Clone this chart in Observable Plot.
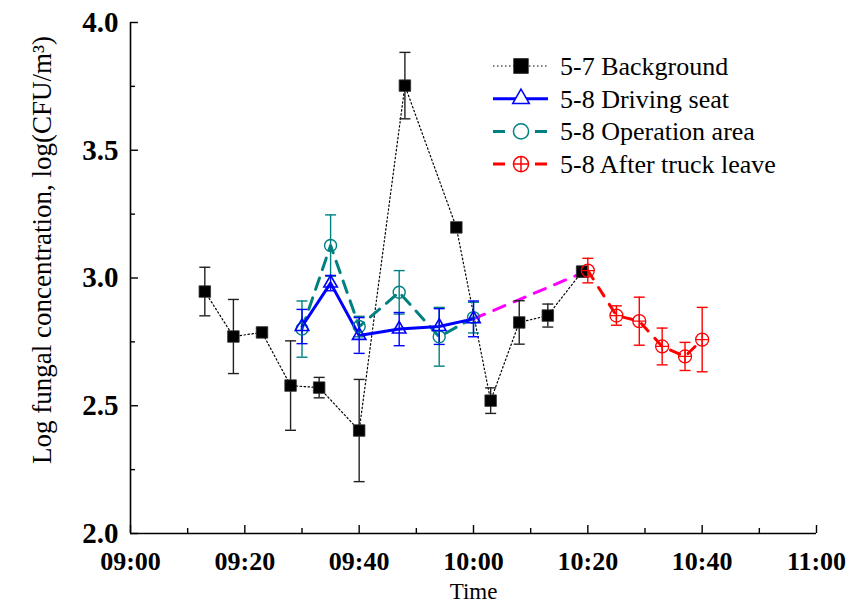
<!DOCTYPE html>
<html><head><meta charset="utf-8">
<script src="https://cdn.jsdelivr.net/npm/d3@7"></script>
<script src="https://cdn.jsdelivr.net/npm/@observablehq/plot@0.6"></script>
<style>
body{margin:0;background:#fff}
#wrap{position:relative;width:852px;height:612px}
#wrap svg{position:absolute;left:0;top:0}
</style>
</head><body><div id="wrap"></div>
<script>
// ---- data ----
const bgTime  = ["09:13","09:18","09:23","09:28","09:33","09:40","09:48","09:57","10:03","10:08","10:13","10:19"];
const bgValue = [2.947,2.771,2.787,2.579,2.571,2.403,3.753,3.198,2.520,2.826,2.853,3.025];
const bgErr   = [0.095,0.145,0.015,0.175,0.040,0.200,0.130,0.000,0.050,0.085,0.045,0.020];

const drvTime  = ["09:30","09:35","09:40","09:47","09:54","10:00"];
const drvValue = [2.810,2.980,2.775,2.800,2.810,2.840];
const drvErr   = [0.067,0.030,0.070,0.065,0.070,0.070];

const opTime  = ["09:30","09:35","09:40","09:47","09:54","10:00"];
const opValue = [2.800,3.127,2.810,2.944,2.770,2.845];
const opErr   = [0.110,0.120,0.040,0.085,0.115,0.060];

const atTime  = ["10:20","10:25","10:29","10:33","10:37","10:40"];
const atValue = [3.029,2.853,2.831,2.732,2.693,2.759];
const atErr   = [0.048,0.038,0.094,0.072,0.055,0.126];

const seriesNames = ["5-7 Background","5-8 Driving seat","5-8 Operation area","5-8 After truck leave"];
const xTickLabels = ["09:00","09:20","09:40","10:00","10:20","10:40","11:00"];
const yTickValues = [2.0,2.5,3.0,3.5,4.0];
const yLabel = "Log fungal concentration, log(CFU/m³)";
const xLabel = "Time";

// ---- helpers ----
const toMin = s => { const [h,m] = s.split(":").map(Number); return (h-9)*60 + m; };
const fmt = m => d3.format("02")(9 + Math.floor(m/60)) + ":" + d3.format("02")(m % 60);
const rows = (t, v, e) => t.map((s,i) => ({x: toMin(s), y: v[i], lo: v[i]-e[i], hi: v[i]+e[i], e: e[i]}));
const bg = rows(bgTime, bgValue, bgErr);
const drv = rows(drvTime, drvValue, drvErr);
const op = rows(opTime, opValue, opErr);
const at = rows(atTime, atValue, atErr);
const link = [drv[drv.length-1], at[0]];

const xMajor = xTickLabels.map(toMin);
const xMinor = d3.range(10, 120, 20);
const yMinor = [2.25,2.75,3.25,3.75];

const capSym = {draw(ctx, size){ const r = Math.sqrt(size/Math.PI); ctx.moveTo(-r,0); ctx.lineTo(r,0); }};
const cplus = {draw(ctx, size){ const r = Math.sqrt(size/Math.PI); ctx.moveTo(r,0); ctx.arc(0,0,r,0,2*Math.PI); ctx.moveTo(-r,0); ctx.lineTo(r,0); ctx.moveTo(0,-r); ctx.lineTo(0,r); }};

const W = 852, H = 612, mL = 130, mR = 36, mT = 22, mB = 79;
const pW = W - mL - mR, pH = H - mT - mB;
const serif = "'Liberation Serif','Times New Roman',serif";

const BLUE = "#0000ff", TEAL = "#008080", RED = "#ff0000", MAG = "#ff00ff";

function errMarks(data, color){
  return [
    Plot.ruleX(data.filter(d => d.e > 0), {x: "x", y1: "lo", y2: "hi", stroke: color, strokeWidth: 1.4}),
    Plot.dot(data.filter(d => d.e > 0), {x: "x", y: "hi", symbol: capSym, r: 5.5, stroke: color, strokeWidth: 1.4}),
    Plot.dot(data.filter(d => d.e > 0), {x: "x", y: "lo", symbol: capSym, r: 5.5, stroke: color, strokeWidth: 1.4})
  ];
}

const plot = Plot.plot({
  width: W, height: H,
  marginLeft: mL, marginRight: mR, marginTop: mT, marginBottom: mB,
  style: {fontFamily: serif, background: "white", color: "black", overflow: "visible"},
  x: {type: "linear", domain: [0, 120]},
  y: {domain: [2, 4]},
  marks: [
    Plot.axisX({ticks: xMajor, tickSize: 0, tickFormat: fmt, fontSize: 26, fontWeight: "bold", tickPadding: 18, label: null}),
    Plot.axisY({ticks: yTickValues, tickSize: 0, tickFormat: d3.format(".1f"), fontSize: 29, fontWeight: "bold", tickPadding: 12, label: null}),
    Plot.tickX(xMajor, {x: d => d, insetTop: pH - 8, stroke: "black", strokeWidth: 1.4}),
    Plot.tickX(xMinor, {x: d => d, insetTop: pH - 5, stroke: "black", strokeWidth: 1.4}),
    Plot.tickY(yTickValues, {y: d => d, insetRight: pW - 8, stroke: "black", strokeWidth: 1.4}),
    Plot.tickY(yMinor, {y: d => d, insetRight: pW - 5, stroke: "black", strokeWidth: 1.4}),
    Plot.ruleX([0], {stroke: "black", strokeWidth: 1.6}),
    Plot.ruleY([2], {stroke: "black", strokeWidth: 1.6}),
    Plot.text([yLabel], {frameAnchor: "left", textAnchor: "middle", rotate: -90, dx: -88, dy: -28, fontSize: 27, fill: "black"}),
    Plot.text([xLabel], {frameAnchor: "bottom", dy: 65, fontSize: 23, fill: "black"}),

    // lines
    Plot.line(bg, {x: "x", y: "y", stroke: "black", strokeWidth: 1.2, strokeDasharray: "1.5,2.5"}),
    Plot.line(link, {x: "x", y: "y", stroke: MAG, strokeWidth: 3, strokeDasharray: "12,10"}),
    Plot.line(op, {x: "x", y: "y", stroke: TEAL, strokeWidth: 3, strokeDasharray: "12,9"}),
    Plot.line(drv, {x: "x", y: "y", stroke: BLUE, strokeWidth: 3}),
    Plot.line(at, {x: "x", y: "y", stroke: RED, strokeWidth: 3, strokeDasharray: "10,10"}),

    // error bars
    ...errMarks(bg, "#222"),
    ...errMarks(op, TEAL),
    ...errMarks(drv, BLUE),
    ...errMarks(at, RED),

    // markers
    Plot.dot(bg, {x: "x", y: "y", symbol: "square", r: 6.5, fill: "black", stroke: "#333", strokeWidth: 0.8}),
    Plot.dot(op, {x: "x", y: "y", symbol: "circle", r: 6, fill: "none", stroke: TEAL, strokeWidth: 1.4}),
    Plot.dot(drv, {x: "x", y: "y", symbol: "triangle", r: 5, fill: "none", stroke: BLUE, strokeWidth: 1.6}),
    Plot.dot(at, {x: "x", y: "y", symbol: cplus, r: 6.5, fill: "none", stroke: RED, strokeWidth: 1.3})
  ]
});
document.getElementById("wrap").appendChild(plot);

// ---- legend overlay ----
const legend = d3.create("svg").attr("width", W).attr("height", H).style("pointer-events", "none");
const legY0 = 66, legDY = 32.7, lx0 = 493, lx1 = 548, lmx = 521, ltx = 560;
const legStyles = [
  {stroke: "black", sw: 1.2, dash: "1.5,2.5", sym: d3.symbolSquare, size: 190, fill: "black"},
  {stroke: BLUE, sw: 3, dash: null, sym: d3.symbolTriangle, size: 120, fill: "white"},
  {stroke: TEAL, sw: 3, dash: "12,30", sym: d3.symbolCircle, size: 180, fill: "white"},
  {stroke: RED, sw: 3, dash: "12,30", sym: cplus, size: 180, fill: "white"}
];
seriesNames.forEach((name, i) => {
  const y = legY0 + i*legDY, s = legStyles[i];
  const g = legend.append("g");
  g.append("line").attr("x1", lx0).attr("x2", lx1).attr("y1", y).attr("y2", y)
    .attr("stroke", s.stroke).attr("stroke-width", s.sw).attr("stroke-dasharray", s.dash);
  g.append("path").attr("transform", `translate(${lmx},${y})`)
    .attr("d", d3.symbol(s.sym, s.size)())
    .attr("fill", s.fill).attr("stroke", s.stroke).attr("stroke-width", 1.5);
  g.append("text").attr("x", ltx).attr("y", y).attr("dy", "0.34em")
    .attr("font-family", serif).attr("font-size", 26).attr("fill", "black").text(name);
});
document.getElementById("wrap").appendChild(legend.node());
</script>
</body></html>
